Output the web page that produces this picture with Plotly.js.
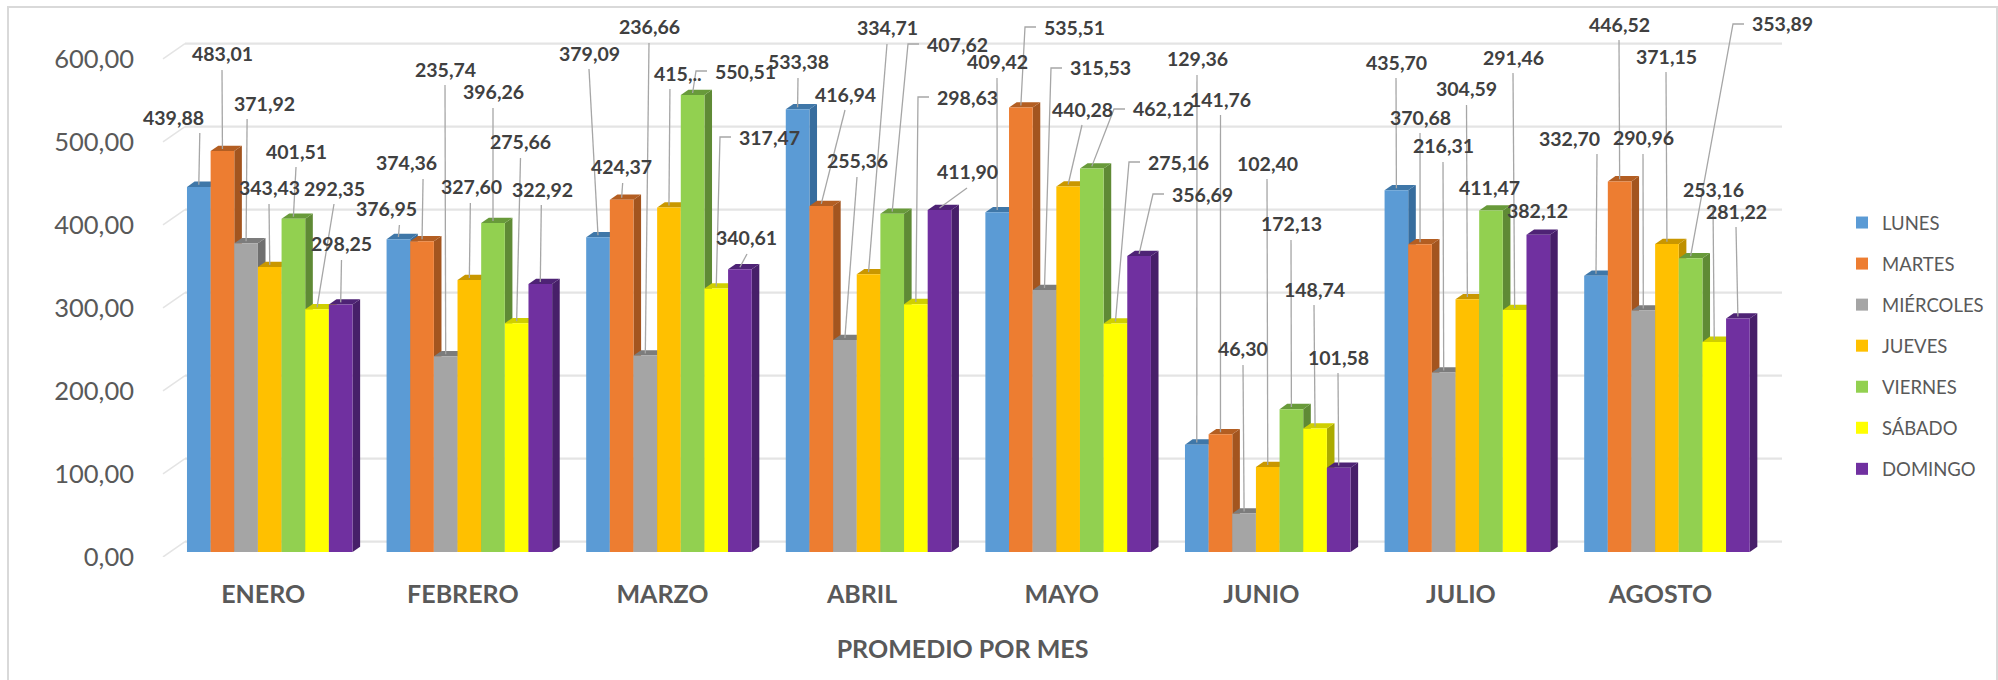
<!DOCTYPE html>
<html><head><meta charset="utf-8">
<script src="https://cdn.plot.ly/plotly-3.0.1.min.js"></script>
<style>html,body{margin:0;padding:0;background:#fff}#c{width:1998px;height:680px}</style>
</head><body><div id="c"></div>
<script>
// ---- data ----
const months = ["ENERO","FEBRERO","MARZO","ABRIL","MAYO","JUNIO","JULIO","AGOSTO"];
const seriesNames = ["LUNES","MARTES","MIÉRCOLES","JUEVES","VIERNES","SÁBADO","DOMINGO"];
const lunes     = [439.88,376.95,379.09,533.38,409.42,129.36,435.70,332.70];
const martes    = [483.01,374.36,424.37,416.94,535.51,141.76,370.68,446.52];
const miercoles = [371.92,235.74,236.66,255.36,315.53,46.30,216.31,290.96];
const jueves    = [343.43,327.60,415.00,334.71,440.28,102.40,304.59,371.15];
const viernes   = [401.51,396.26,550.51,407.62,462.12,172.13,411.47,353.89];
const sabado    = [292.35,275.66,317.47,298.63,275.16,148.74,291.46,253.16];
const domingo   = [298.25,322.92,340.61,411.90,356.69,101.58,382.12,281.22];
const yTicks = [0,100,200,300,400,500,600];

// ---- styles ----
const frontColors = ["#5B9BD5","#ED7D31","#A5A5A5","#FFC000","#92D050","#FFFF00","#7030A0"];
const sideColors  = ["#376D9E","#A3551F","#6F6F6F","#BF9000","#5F8A35","#ABAB00","#471F69"];
const topColors   = ["#3F77A8","#B35E22","#7C7C7C","#C99700","#689A3A","#CFCF00","#4E2375"];

// ---- label placement, in page pixels, one row per series ----
const labelX = [
 [173,386,589,798,997,1197,1396,1569],
 [222,406,621,845,1074,1220.5,1420,1619],
 [264,445,649,857,1100,1243,1443,1643],
 [269,471,678,887,1082,1267,1466.5,1666],
 [296,493,745,957,1163,1291,1489,1782],
 [334,520.5,769,967,1178,1314,1513,1713],
 [341.5,542,747,967,1202,1338,1537,1736]];
const labelY = [
 [117,209,53,62,62,59,62,138],
 [54,163,167,94,27,99,117,24],
 [103,69,27,161,68,349,146,138],
 [188,187,73,28,109,163,89,56],
 [151,92,71,44,109,224,187,24],
 [188,142,137,97,162,289,57,189],
 [244,189,238,172,194,357,211,211]];
const elbowLabels = ["2-4","2-5","3-4","3-5","4-1","4-2","4-4","4-5","4-6","7-4"];
const verticalLeaders = ["0-0","0-2","1-0","1-1","1-3","1-6","2-1","2-3","7-0"];
const noLeader = ["6-4","6-6"];
const labelOverride = {"3-2":"415,.."};

const values = [lunes,martes,miercoles,jueves,viernes,sabado,domingo];

// ---- geometry ----
const W=1998,H=680, plotL=140, plotR=1785, plotT=10, plotB=557;
const x0Px=269.75, xStep=199.6, y0Px=552, yScale=0.83;
const px2x=p=>(p-x0Px)/xStep, py2y=p=>(y0Px-p)/yScale;
const x2px=x=>x0Px+x*xStep, y2py=y=>y0Px-y*yScale;
const barW=23.65/xStep, depthX=7.6/xStep, depthY=5.3/yScale;
const backY=12.6, tickDrop=6, monthLabelShift=6.5/xStep;
const bx=(i,k)=>i+(k-3)*barW;
const fmt=v=>v.toFixed(2).replace(".",",");

// ---- traces ----
const traces = seriesNames.map((n,k)=>({
  type:"bar", name:n, x:months.map((_,i)=>i), y:values[k], legendgroup:n,
  marker:{color:frontColors[k],line:{width:0}}, hoverinfo:"name+y"
}));

// ---- depth faces and wall grid ----
const shapes = [];
const frameX=p=>(p-plotL)/(plotR-plotL), frameY=p=>(plotB-p)/(plotB-plotT);
shapes.push({type:"path",xref:"paper",yref:"paper",layer:"below",
  path:`M${frameX(8)},${frameY(H+5)} L${frameX(8)},${frameY(7)} L${frameX(1997)},${frameY(7)} L${frameX(1997)},${frameY(H+5)}`,
  line:{color:"#D9D9D9",width:2}});
yTicks.forEach(t=>{
  shapes.push({type:"line",xref:"x",yref:"y",layer:"below",x0:px2x(185),x1:px2x(1782),y0:t+backY,y1:t+backY,line:{color:"#E4E4E4",width:2.2}});
  shapes.push({type:"line",xref:"x",yref:"y",layer:"below",x0:px2x(163),x1:px2x(185),y0:t-tickDrop,y1:t+backY,line:{color:"#E4E4E4",width:1.5}});
});
months.forEach((_,i)=>{
  values.forEach((s,k)=>{
    const v=s[i], l=bx(i,k)-barW/2, r=l+barW;
    shapes.push({type:"path",xref:"x",yref:"y",layer:"below",fillcolor:sideColors[k],line:{width:0},
      path:`M${r},0 L${r+depthX},${depthY} L${r+depthX},${v+depthY} L${r},${v} Z`});
    shapes.push({type:"path",xref:"x",yref:"y",layer:"below",fillcolor:topColors[k],line:{width:0},
      path:`M${l},${v} L${l+depthX},${v+depthY} L${r+depthX},${v+depthY} L${r},${v} Z`});
  });
});

// ---- labels and leaders ----
const annotations=[], lx=[], ly=[];
values.forEach((s,k)=>s.forEach((v,i)=>{
  const key=k+"-"+i, mk=i+"-"+k, mx=bx(i,k), bpx=x2px(mx), bpy=y2py(v), tx=labelX[k][i], ty=labelY[k][i];
  annotations.push({x:mx,y:v,xref:"x",yref:"y",showarrow:false,xanchor:"center",yanchor:"middle",
    xshift:tx-bpx,yshift:bpy-ty,text:labelOverride[key]||fmt(v),
    font:{family:"Lato",size:19.5,color:"#404040",weight:700}});
  const tipY=v+2.5;
  if(noLeader.includes(mk)) return;
  if(elbowLabels.includes(mk)){
    const st=tx-38, el=st-11;
    lx.push(px2x(st),px2x(el),mx,null); ly.push(py2y(ty),py2y(ty),tipY,null);
  } else {
    const sx=verticalLeaders.includes(mk) ? bpx+1 : tx;
    lx.push(px2x(sx),mx,null); ly.push(py2y(ty+16),tipY,null);
  }
}));
traces.push({type:"scatter",mode:"lines",x:lx,y:ly,showlegend:false,hoverinfo:"skip",
  line:{color:"#A6A6A6",width:1.3}});

const layout={
  width:W,height:H,paper_bgcolor:"#fff",plot_bgcolor:"rgba(0,0,0,0)",
  margin:{l:plotL,r:W-plotR,t:plotT,b:H-plotB,autoexpand:false},
  font:{family:"Lato",color:"#595959"},
  barmode:"group",bargap:1-7*barW,bargroupgap:0,
  xaxis:{type:"linear",range:[px2x(plotL),px2x(plotR)],tickmode:"array",
    tickvals:months.map((_,i)=>i-monthLabelShift),ticktext:months,
    showgrid:false,zeroline:false,showline:false,ticks:"",ticklabelstandoff:20,
    tickfont:{family:"Lato",size:25,color:"#595959",weight:700},
    title:{text:"PROMEDIO POR MES",standoff:33,font:{family:"Lato",size:25,color:"#595959",weight:700}}},
  yaxis:{range:[py2y(plotB),py2y(plotT)],tickmode:"array",tickvals:yTicks.map(t=>t-tickDrop),ticktext:yTicks.map(fmt),
    showgrid:false,zeroline:false,showline:false,ticks:"",ticklabelstandoff:5,
    tickfont:{family:"Lato",size:25.5,color:"#595959"}},
  separators:",.",
  legend:{x:(1842-plotL)/(plotR-plotL),xanchor:"left",y:(plotB-204)/(plotB-plotT),yanchor:"top",
    tracegroupgap:14,font:{family:"Lato",size:18.5,color:"#595959"},bgcolor:"rgba(0,0,0,0)"},
  shapes,annotations,showlegend:true
};
Plotly.newPlot("c",traces,layout,{displayModeBar:false,staticPlot:true});
</script></body></html>
